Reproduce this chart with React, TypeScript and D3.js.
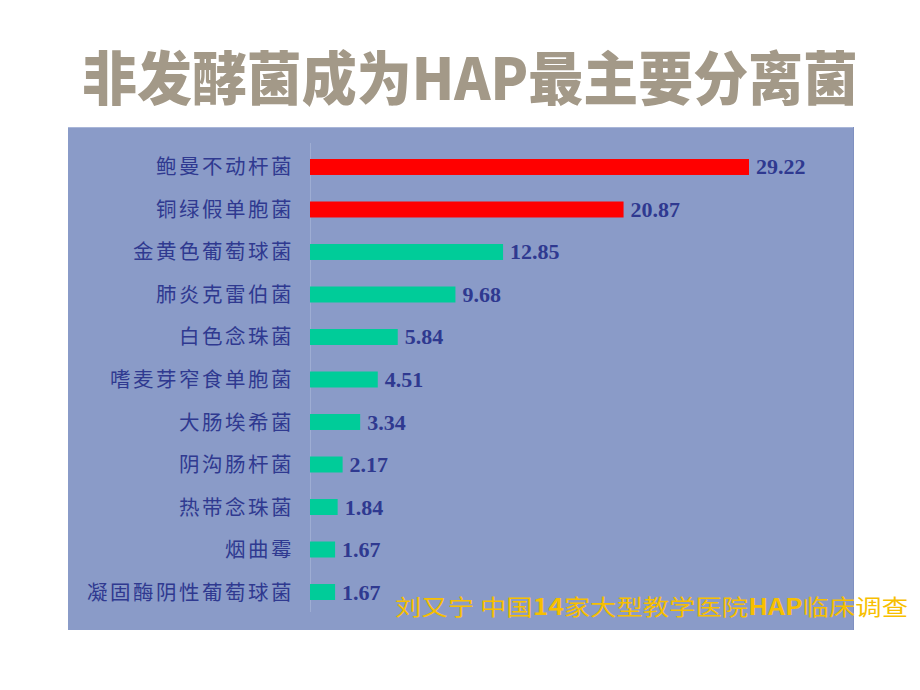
import React from "react";
import * as d3 from "d3";

const categories = [
  "鲍曼不动杆菌",
  "铜绿假单胞菌",
  "金黄色葡萄球菌",
  "肺炎克雷伯菌",
  "白色念珠菌",
  "嗜麦芽窄食单胞菌",
  "大肠埃希菌",
  "阴沟肠杆菌",
  "热带念珠菌",
  "烟曲霉",
  "凝固酶阴性葡萄球菌",
];
const values = [29.22, 20.87, 12.85, 9.68, 5.84, 4.51, 3.34, 2.17, 1.84, 1.67, 1.67];
const highlighted = [true, true, false, false, false, false, false, false, false, false, false];
const valueLabels = ["29.22", "20.87", "12.85", "9.68", "5.84", "4.51", "3.34", "2.17", "1.84", "1.67", "1.67"];
const title = "非发酵菌成为HAP最主要分离菌";

export default function App() {
  const W = 920;
  const H = 690;
  const x = d3.scaleLinear().domain([0, 29.22]).range([310, 749]);
  const y = d3
    .scaleBand<string>()
    .domain(categories)
    .range([137.75, 621.25])
    .paddingInner(0.624)
    .paddingOuter(0.5);
  const bw = y.bandwidth();
  const labelColor = "#2f3990";

  return (
    <svg
      width={W}
      height={H}
      style={{ position: "absolute", left: 0, top: 0, background: "#ffffff" }}
    >
      <rect x={0} y={0} width={W} height={H} fill="#ffffff" />
      <text
        x={82}
        y={100}
        fontFamily="'Noto Sans CJK SC', sans-serif"
        fontWeight={900}
        fontSize={58}
        fill="#a39988"
        textLength={776}
        lengthAdjust="spacingAndGlyphs"
      >
        {title}
      </text>
      <rect x={68} y={127} width={786} height={503} fill="#8a9bc8" />
      <line x1={68} x2={854} y1={127.5} y2={127.5} stroke="#a9b6d8" strokeWidth={1} />
      <line x1={853.5} x2={853.5} y1={127} y2={630} stroke="#7f90c0" strokeWidth={1} />
      <line x1={310.5} x2={310.5} y1={143} y2={612} stroke="#9eadd3" strokeWidth={1} />
      {categories.map((c, i) => {
        const yc = (y(c) as number) + bw / 2;
        return (
          <g key={c}>
            <rect
              x={x(0)}
              y={y(c) as number}
              width={x(values[i]) - x(0)}
              height={bw}
              fill={highlighted[i] ? "#ff0000" : "#00cc99"}
            />
            <text
              x={294}
              y={yc + 7.5}
              textAnchor="end"
              fontFamily="'Noto Sans CJK SC', sans-serif"
              fontSize={20.5}
              letterSpacing={2.5}
              fill={labelColor}
            >
              {c}
            </text>
            <text
              x={x(values[i]) + 7}
              y={yc + 7.5}
              fontFamily="'Liberation Serif', 'Times New Roman', serif"
              fontWeight={700}
              fontSize={22}
              fill={labelColor}
            >
              {valueLabels[i]}
            </text>
          </g>
        );
      })}
      <text
        x={395}
        y={615}
        fontFamily="'Noto Sans CJK SC', sans-serif"
        fontSize={22}
        fill="#f7bf00"
        textLength={513}
        lengthAdjust="spacingAndGlyphs"
      >
        <tspan>刘又宁 中国</tspan>
        <tspan fontWeight={700}>14</tspan>
        <tspan>家大型教学医院</tspan>
        <tspan fontWeight={700}>HAP</tspan>
        <tspan>临床调查</tspan>
      </text>
    </svg>
  );
}
